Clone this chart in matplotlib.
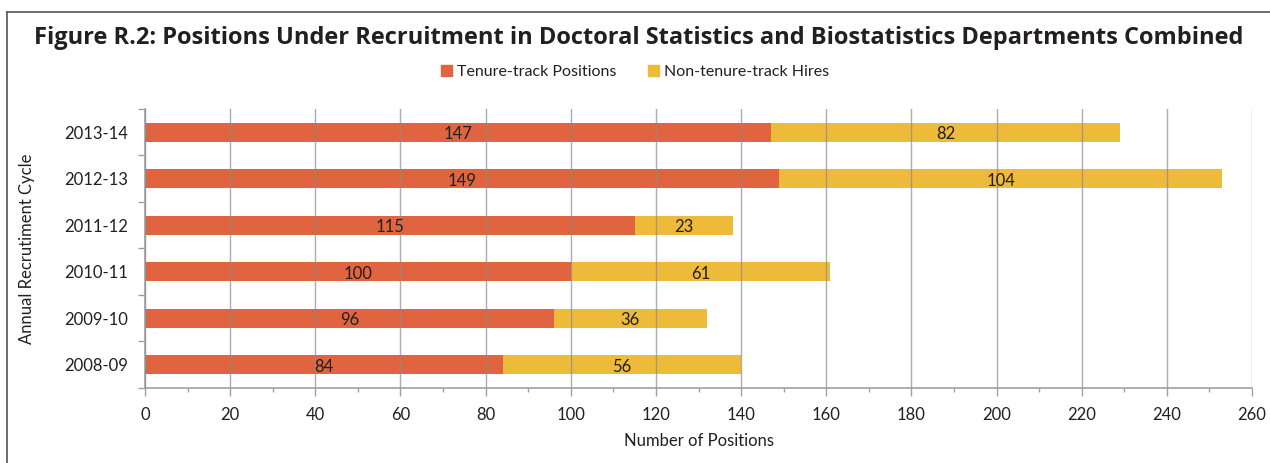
import numpy as np
import matplotlib.pyplot as plt
from matplotlib.lines import Line2D
from matplotlib.patches import Patch

# data
cycles = ['2008-09', '2009-10', '2010-11', '2011-12', '2012-13', '2013-14']
tenure = [84, 96, 100, 115, 149, 147]
non_tenure = [56, 36, 61, 23, 104, 82]

red = '#E0643F'
yellow = '#EEBA3A'
txt = '#231F20'

plt.rcParams['font.family'] = ['Lato', 'DejaVu Sans']

fig = plt.figure(figsize=(12.7, 4.63), dpi=100)
ax = fig.add_axes([0.1142, 0.162, 0.8716, 0.6026])

y = np.arange(len(cycles))
b1 = ax.barh(y, tenure, height=0.41, color=red, zorder=2)
b2 = ax.barh(y, non_tenure, left=tenure, height=0.41, color=yellow, zorder=2)

for i in range(len(cycles)):
    ax.text(tenure[i] / 2, y[i] - 0.04, str(tenure[i]), ha='center', va='center',
            fontsize=12, color=txt, zorder=4)
    ax.text(tenure[i] + non_tenure[i] / 2, y[i] - 0.04, str(non_tenure[i]),
            ha='center', va='center', fontsize=12, color=txt, zorder=4)

ax.set_xlim(0, 260)
ax.set_ylim(-0.5, 5.5)
ax.set_xticks(np.arange(0, 261, 20))
ax.set_xticks(np.arange(0, 261, 10), minor=True)
ax.set_yticks(y)
ax.set_yticklabels(cycles)
ax.set_yticks(np.arange(-0.5, 6, 1), minor=True)
ax.tick_params(axis='y', which='major', length=0, pad=12, labelsize=12, labelcolor=txt)
ax.tick_params(axis='y', which='minor', length=5, color='#A0A0A0', width=1)
ax.tick_params(axis='x', which='major', length=6, color='#A0A0A0', width=1,
               labelsize=12, labelcolor=txt, pad=8)
ax.tick_params(axis='x', which='minor', length=3, color='#A0A0A0', width=1)

ax.grid(axis='x', which='major', color='#8A8A8A', linewidth=1, alpha=0.7, zorder=3)
ax.set_axisbelow(False)
for s in ['top', 'right']:
    ax.spines[s].set_visible(False)
for s in ['left', 'bottom']:
    ax.spines[s].set_color('#A0A0A0')
    ax.spines[s].set_linewidth(1.2)

ax.set_xlabel('Number of Positions', fontsize=12, color=txt, labelpad=7)
ax.set_ylabel('Annual Recrutiment Cycle', fontsize=12, color=txt, labelpad=21)

fig.text(0.503, 0.918, 'Figure R.2: Positions Under Recruitment in Doctoral Statistics and Biostatistics Departments Combined',
         ha='center', va='center', fontsize=17, fontweight='bold', color=txt,
         family=['Open Sans', 'DejaVu Sans'])

handles = [Patch(color=red), Patch(color=yellow)]
fig.legend(handles, ['Tenure-track Positions', 'Non-tenure-track Hires'],
           loc='center', bbox_to_anchor=(0.5, 0.845), ncol=2, frameon=False,
           fontsize=11.5, handlelength=0.7, handleheight=0.7, handletextpad=0.3,
           columnspacing=2.0, labelcolor=txt)

# frame around figure (left and top)
fig.add_artist(Line2D([0.0055, 0.0055], [0.0, 0.974], color='#555555', lw=1.2))
fig.add_artist(Line2D([0.0055, 1.0], [0.974, 0.974], color='#555555', lw=1.2))

fig.savefig('out.png', dpi=100)
